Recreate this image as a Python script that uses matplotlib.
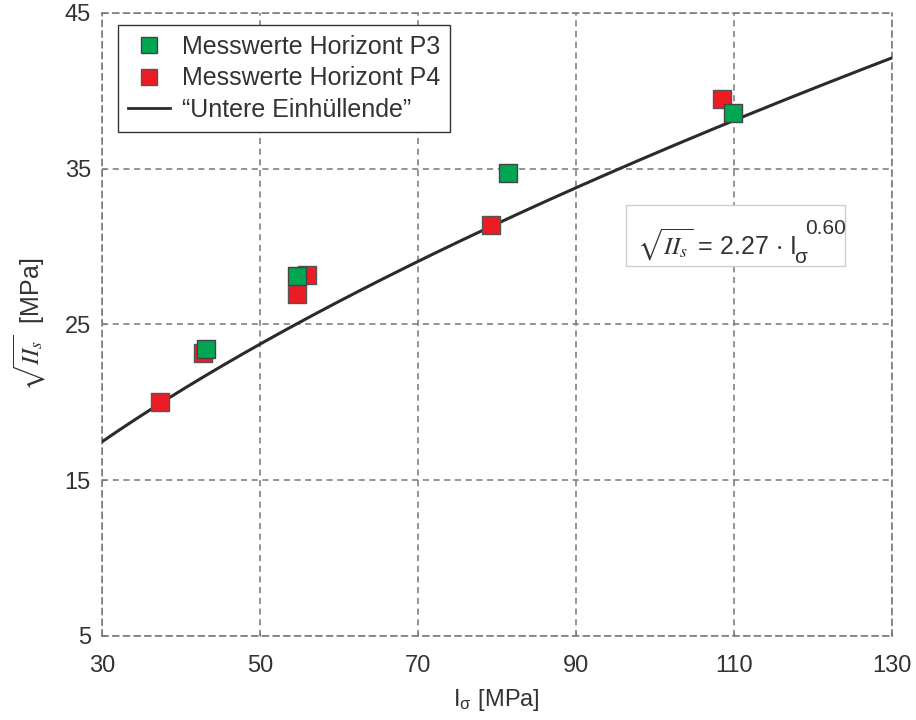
import numpy as np
import matplotlib
matplotlib.use("Agg")
import matplotlib.pyplot as plt
from matplotlib.lines import Line2D
from matplotlib.patches import Rectangle

plt.rcParams['font.family'] = ['Liberation Sans', 'DejaVu Sans']
plt.rcParams['mathtext.fontset'] = 'stix'

# Data
p3_x = [43.2, 54.7, 81.4, 109.9]
p3_y = [23.4, 28.1, 34.7, 38.6]
p4_x = [37.3, 42.8, 54.7, 55.9, 79.2, 108.5]
p4_y = [20.0, 23.15, 26.95, 28.2, 31.4, 39.5]
fit_a = 2.27
fit_b = 0.60
x_ticks = [30, 50, 70, 90, 110, 130]
y_ticks = [5, 15, 25, 35, 45]

green = '#00A651'
red = '#ED1C24'
txt = '#333333'

fig = plt.figure(figsize=(9.16, 7.2), dpi=100)
ax = fig.add_axes([0.1114, 0.1167, 0.8621, 0.8653])

xc = np.linspace(30, 130, 300)
ax.plot(xc, fit_a * xc ** fit_b, color='#2b2b2b', lw=2.2, zorder=3)
ax.scatter(p4_x, p4_y, marker='s', s=150, color=red, edgecolors='#555555', linewidths=1.0, zorder=4)
ax.scatter(p3_x, p3_y, marker='s', s=150, color=green, edgecolors='#444444', linewidths=1.0, zorder=5)

ax.set_xlim(30, 130)
ax.set_ylim(5, 45)
ax.set_xticks(x_ticks)
ax.set_yticks(y_ticks)
ax.tick_params(direction='in', length=3, color='#777777', labelsize=17, labelcolor=txt, pad=8)
ax.tick_params(axis='x', pad=14)
ax.grid(True, linestyle=(0, (4, 3)), color='#777777', lw=1.1)
for s in ax.spines.values():
    s.set_linestyle((0, (4, 3)))
    s.set_color('#777777')
    s.set_linewidth(1.1)

ax.set_xlabel(r'I$_{\mathdefault{σ}}$ [MPa]', fontsize=17, color=txt, labelpad=7)
ax.set_ylabel(r'$\sqrt{II_s}$  [MPa]', fontsize=18, color=txt, labelpad=12)

handles = [
    Line2D([], [], marker='s', ls='none', markersize=12, markerfacecolor=green, markeredgecolor='#444444'),
    Line2D([], [], marker='s', ls='none', markersize=12, markerfacecolor=red, markeredgecolor='#555555'),
    Line2D([], [], color='#2b2b2b', lw=2),
]
labels = ['Messwerte Horizont P3', 'Messwerte Horizont P4', '\u201cUntere Einh\u00fcllende\u201d']
leg = ax.legend(handles, labels, loc='upper left', bbox_to_anchor=(0.02, 0.981), fontsize=18,
                frameon=True, fancybox=False, edgecolor='#333333', framealpha=1,
                handlelength=1.7, handletextpad=0.45, borderpad=0.4, labelspacing=0.3,
                borderaxespad=0.0)
leg.get_frame().set_linewidth(1.0)
for t in leg.get_texts():
    t.set_color(txt)

# Annotation box (in axes-fraction coordinates)
ax.add_patch(Rectangle((0.664, 0.594), 0.277, 0.097, transform=ax.transAxes,
                       facecolor='white', edgecolor='#cccccc', lw=1, zorder=6))
ax.text(0.677, 0.613, r'$\sqrt{II_s}$ = 2.27 $\cdot$ I', transform=ax.transAxes,
        fontsize=18, color=txt, va='baseline', ha='left', zorder=7)
ax.text(0.877, 0.598, 'σ', transform=ax.transAxes,
        fontsize=15, color=txt, va='baseline', ha='left', zorder=7)
ax.text(0.890, 0.646, '0.60', transform=ax.transAxes,
        fontsize=15, color=txt, va='baseline', ha='left', zorder=7)

fig.savefig('out.png', dpi=100)
